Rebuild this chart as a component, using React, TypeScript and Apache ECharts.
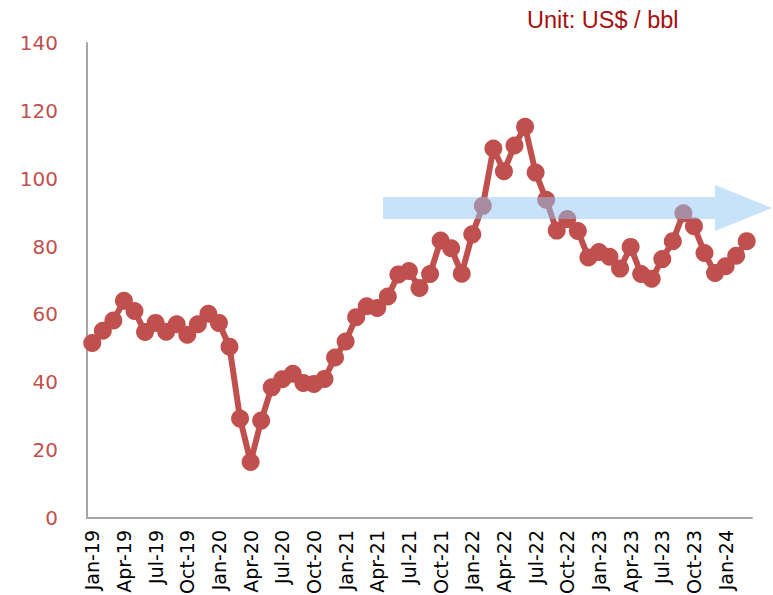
import React, { useEffect, useRef } from "react";
import * as echarts from "echarts";

const months = ["Jan", "Feb", "Mar", "Apr", "May", "Jun", "Jul", "Aug", "Sep", "Oct", "Nov", "Dec"];
const years = ["19", "20", "21", "22", "23", "24"];
const categories: string[] = [];
years.forEach((y) => months.forEach((m) => categories.push(`${m}-${y}`)));
const labels = categories.slice(0, 63); // Jan-19 .. Mar-24

const prices = [
  51.6, 55.2, 58.2, 64.0, 61.0, 54.8, 57.5, 54.9, 57.1, 54.0, 57.1, 60.2,
  57.5, 50.5, 29.3, 16.5, 28.7, 38.5, 40.9, 42.5, 39.8, 39.5, 41.0, 47.3,
  52.0, 59.2, 62.4, 61.9, 65.3, 71.8, 72.8, 67.8, 71.9, 81.8, 79.5, 72.0,
  83.6, 92.0, 108.9, 102.2, 109.8, 115.3, 101.8, 93.8, 84.7, 88.1, 84.6, 76.8,
  78.4, 77.0, 73.5, 79.9, 71.9, 70.5, 76.3, 81.6, 89.8, 86.0, 78.1, 72.2,
  74.2, 77.3, 81.6,
];

const yTicks = { min: 0, max: 140, interval: 20 };
const unitText = "Unit: US$ / bbl";

export default function App() {
  const ref = useRef<HTMLDivElement>(null);
  useEffect(() => {
    if (!ref.current) return;
    const chart = echarts.init(ref.current, undefined, { renderer: "svg" });
    chart.setOption({
      animation: false,
      grid: { left: 87, right: 21, top: 43, bottom: 77, containLabel: false, outerBoundsMode: "none" },
      xAxis: {
        type: "category",
        data: labels,
        boundaryGap: true,
        axisLine: { show: true, lineStyle: { color: "#a6a6a6", width: 2 } },
        axisTick: { show: false },
        axisLabel: {
          interval: 2,
          rotate: 90,
          margin: 12,
          fontSize: 19,
          fontFamily: "DejaVu Sans",
          color: "#000",
        },
        splitLine: { show: false },
      },
      yAxis: {
        type: "value",
        min: yTicks.min,
        max: yTicks.max,
        interval: yTicks.interval,
        axisLine: { show: true, lineStyle: { color: "#a6a6a6", width: 2 } },
        axisTick: { show: false },
        splitLine: { show: false },
        axisLabel: {
          margin: 29,
          fontSize: 20,
          fontFamily: "DejaVu Sans",
          color: "#c0504d",
        },
      },
      series: [
        {
          type: "line",
          data: prices,
          symbol: "circle",
          symbolSize: 18,
          showAllSymbol: true,
          lineStyle: { color: "#c0504d", width: 6 },
          itemStyle: { color: "#c0504d" },
          z: 2,
        },
      ],
      graphic: [
        {
          type: "polygon",
          z: 100,
          shape: {
            points: [
              [383, 197],
              [715, 197],
              [715, 185],
              [772, 208],
              [715, 231],
              [715, 219],
              [383, 219],
            ],
          },
          style: { fill: "rgba(145,197,245,0.5)" },
        },
        {
          type: "text",
          x: 527,
          y: 20,
          z: 100,
          style: {
            text: unitText,
            fontSize: 23.5,
            fontFamily: "Liberation Sans",
            fill: "#a50f0f",
            verticalAlign: "middle",
            align: "left",
          },
        },
      ],
    });
    return () => chart.dispose();
  }, []);
  return <div ref={ref} style={{ width: 773, height: 595, position: "absolute", left: 0, top: 0 }} />;
}
